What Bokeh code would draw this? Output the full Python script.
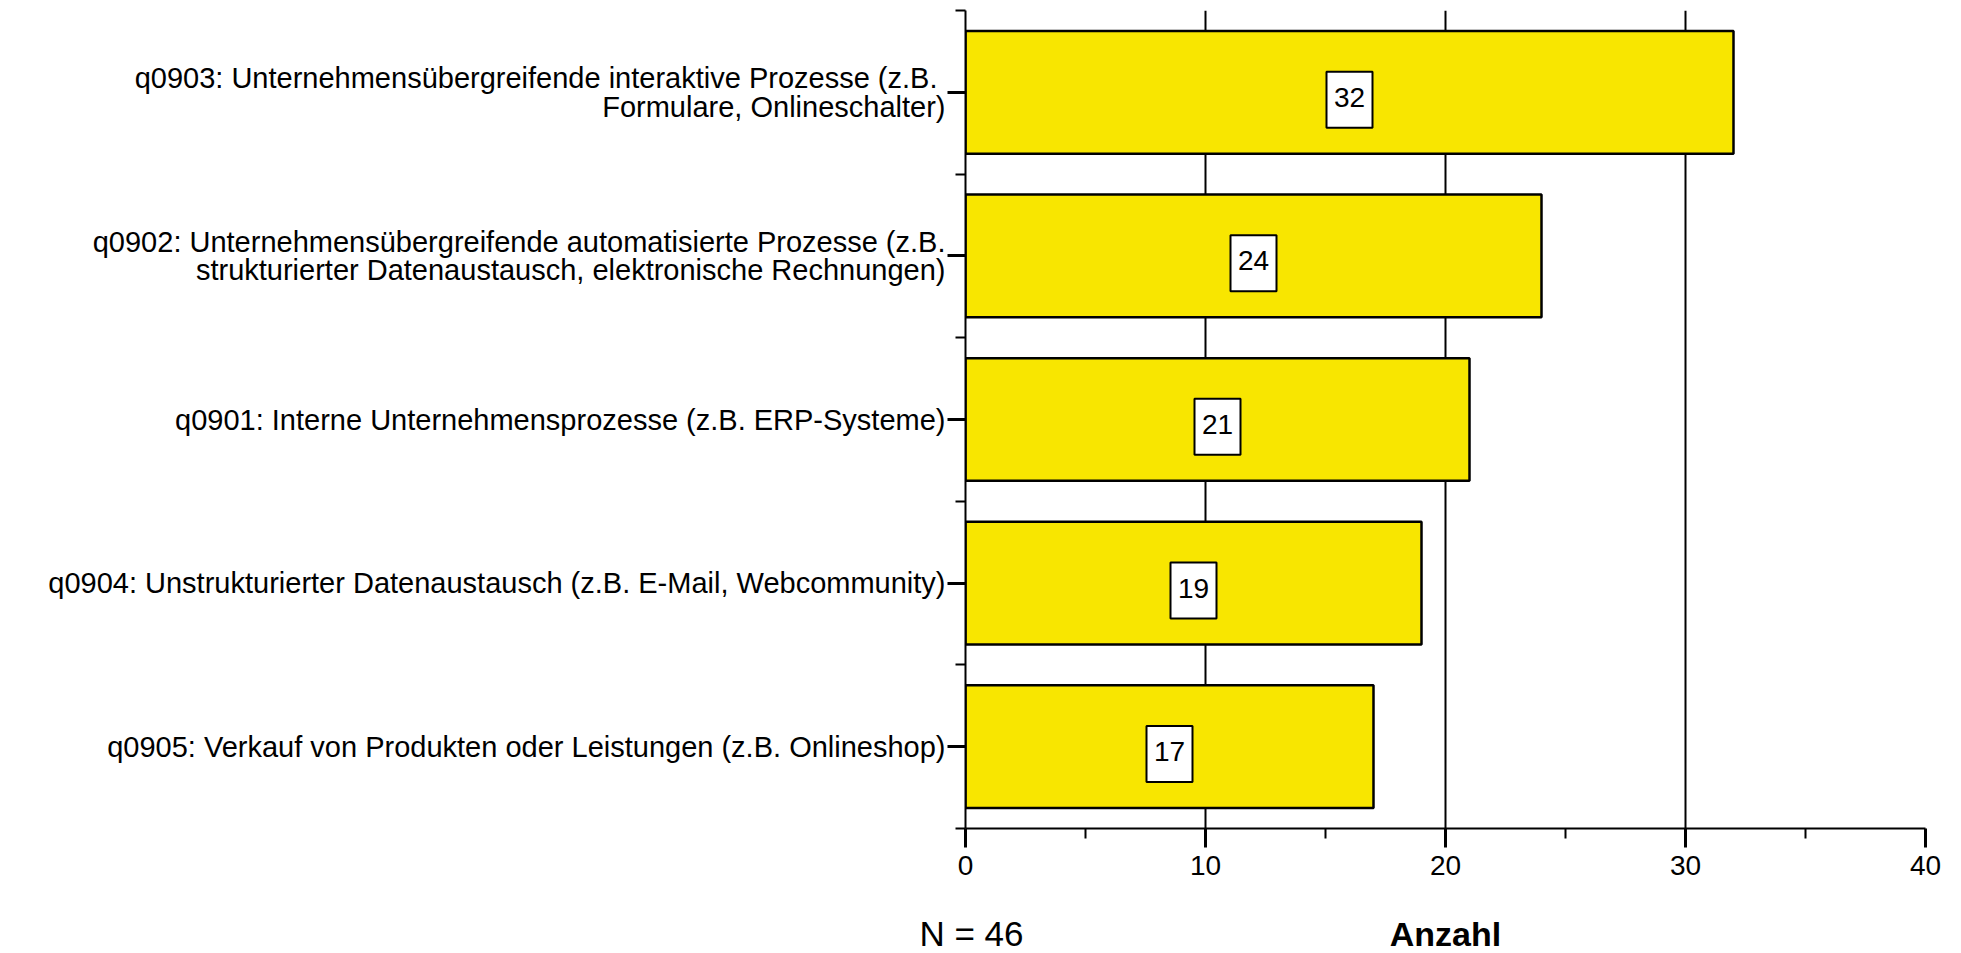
from bokeh.plotting import figure
from bokeh.layouts import column
from bokeh.models import FixedTicker, Range1d, ColumnDataSource
from bokeh.transform import dodge
from bokeh.core.properties import value
from bokeh.embed import file_html
from bokeh.resources import INLINE

# ---- data (top to bottom as in the chart) ----
categories = [
    "q0903: Unternehmensübergreifende interaktive Prozesse  (z.B.\nFormulare, Onlineschalter)",
    "q0902: Unternehmensübergreifende automatisierte Prozesse (z.B.\nstrukturierter Datenaustausch, elektronische Rechnungen)",
    "q0901: Interne Unternehmensprozesse (z.B. ERP-Systeme)",
    "q0904: Unstrukturierter Datenaustausch (z.B. E-Mail, Webcommunity)",
    "q0905: Verkauf von Produkten oder Leistungen (z.B. Onlineshop)",
]
counts = [32, 24, 21, 19, 17]
x_ticks = [0, 10, 20, 30, 40]
x_minor_ticks = [5, 15, 25, 35]
n_text = "N = 46"
x_title = "Anzahl"

FONT = "Liberation Sans"

# ---- layout constants (pixels) ----
W = 1955
LEFT, RIGHT = 965, 30
TOP = 10
FRAME_H = 818
MAIN_H = 895
FOOT_H = 953 - MAIN_H

n = len(categories)
ypos = [n - i for i in range(n)]
src = ColumnDataSource(dict(
    y=ypos,
    value=counts,
    mid=[c / 2 for c in counts],
    label=[str(c) for c in counts],
))

x0, x1 = x_ticks[0], x_ticks[-1]
p = figure(width=W, height=MAIN_H, output_backend="svg", toolbar_location=None,
           x_range=Range1d(x0, x1), y_range=Range1d(0.5, n + 0.5),
           min_border_left=LEFT, min_border_right=RIGHT, min_border_top=TOP,
           min_border_bottom=MAIN_H - TOP - FRAME_H)
p.frame_align = False
p.outline_line_color = None
p.background_fill_color = "white"

p.hbar(y="y", left=0, right="value", height=0.75, source=src,
       fill_color="#F8E600", line_color="black", line_width=2.5)

p.rect(x="mid", y=dodge("y", -0.045), width=46, height=56,
       width_units="screen", height_units="screen", source=src,
       fill_color="white", line_color="black", line_width=2)
p.text(x="mid", y=dodge("y", -0.03), text="label", source=src,
       text_align="center", text_baseline="middle",
       text_font=value(FONT), text_font_size="28px", text_color="black")

# x axis
xa = p.xaxis[0]
xa.ticker = FixedTicker(ticks=x_ticks, minor_ticks=x_minor_ticks)
xa.axis_line_width = 2
xa.axis_line_color = "black"
xa.major_tick_out = 19
xa.major_tick_in = 0
xa.minor_tick_out = 10
xa.minor_tick_in = 0
xa.major_tick_line_width = 3
xa.minor_tick_line_width = 2
xa.major_label_text_font = FONT
xa.major_label_text_font_size = "28px"
xa.major_label_text_color = "black"
xa.major_label_standoff = 8

p.xgrid.grid_line_color = "black"
p.xgrid.grid_line_width = 2
p.ygrid.visible = False

# y axis
ya = p.yaxis[0]
ya.ticker = FixedTicker(ticks=ypos, minor_ticks=[k + 0.5 for k in range(n + 1)])
ya.major_label_overrides = {y: c for y, c in zip(ypos, categories)}
ya.axis_line_width = 2
ya.axis_line_color = "black"
ya.major_tick_out = 18
ya.major_tick_in = 0
ya.minor_tick_out = 10
ya.minor_tick_in = 0
ya.major_tick_line_width = 3
ya.minor_tick_line_width = 2
ya.major_label_text_font = FONT
ya.major_label_text_font_size = "29px"
ya.major_label_text_color = "black"
ya.major_label_text_line_height = 0.9
ya.major_label_standoff = 2

# ---- footer strip with "N = 46" and the axis title, same x scale ----
px_per_unit = (W - LEFT - RIGHT) / (x1 - x0)
foot = figure(width=W, height=FOOT_H, output_backend="svg", toolbar_location=None,
              x_range=Range1d(x0 - LEFT / px_per_unit, x1 + RIGHT / px_per_unit),
              y_range=Range1d(0, FOOT_H), min_border=0,
              min_border_left=0, min_border_right=0,
              min_border_top=0, min_border_bottom=0,
              x_axis_location=None, y_axis_location=None)
foot.frame_align = False
foot.grid.visible = False
foot.outline_line_color = None
foot.text(x=[x0 - 1.92], y=[20], text=[n_text], text_font=value(FONT),
          text_font_size="35px", text_align="left", text_baseline="alphabetic",
          text_color="black")
foot.text(x=[(x0 + x1) / 2], y=[20], text=[x_title], text_font=value(FONT),
          text_font_size="34px", text_font_style="bold", text_align="center",
          text_baseline="alphabetic", text_color="black")

layout = column(p, foot, spacing=0)
open("out.html", "w").write(file_html(layout, INLINE))
